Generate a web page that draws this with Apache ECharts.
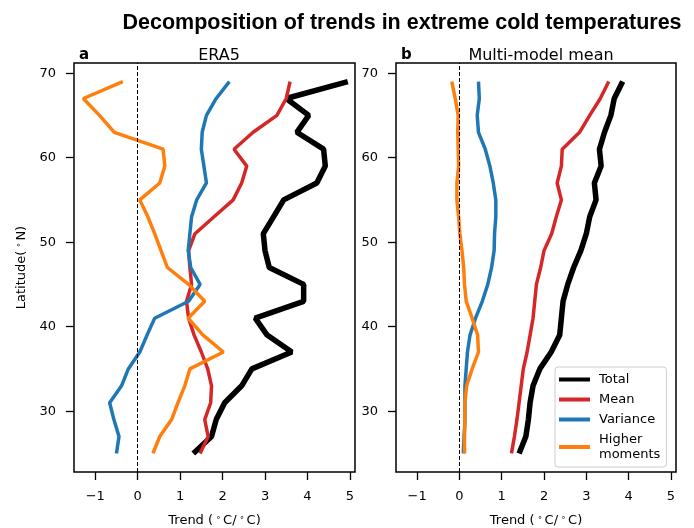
<!DOCTYPE html>
<html>
<head>
<meta charset="utf-8">
<script src="https://cdn.jsdelivr.net/npm/echarts@6/dist/echarts.min.js"></script>
<style>
  html, body { margin: 0; padding: 0; background: #fff; }
  #chart { width: 694px; height: 528px; }
</style>
</head>
<body>
<div id="chart"></div>
<script>
// latitude of each profile point (deg N), bottom to top
const latitudes = [25, 27, 29, 31, 33, 35, 37, 39, 41, 43, 45, 47, 49, 51, 53, 55, 57, 59, 61, 63, 65, 67, 69];

// a: ERA5 trends (°C/°C)
const era5Total = [1.31, 1.74, 1.85, 2.05, 2.45, 2.69, 3.63, 3.05, 2.77, 3.91, 3.91, 3.10, 3.00, 2.96, 3.20, 3.44, 4.22, 4.42, 4.38, 3.75, 4.03, 3.50, 4.95];
const era5Mean = [1.47, 1.66, 1.58, 1.72, 1.74, 1.65, 1.50, 1.33, 1.20, 1.15, 1.27, 1.23, 1.20, 1.35, 1.80, 2.25, 2.45, 2.57, 2.27, 2.72, 3.28, 3.50, 3.59];
const era5Variance = [-0.50, -0.44, -0.56, -0.66, -0.38, -0.22, 0.05, 0.22, 0.40, 1.20, 1.47, 1.25, 1.19, 1.23, 1.27, 1.39, 1.62, 1.56, 1.50, 1.52, 1.62, 1.85, 2.16];
const era5Higher = [0.36, 0.52, 0.80, 0.95, 1.11, 1.23, 2.02, 1.54, 1.19, 1.58, 1.20, 0.70, 0.55, 0.40, 0.24, 0.05, 0.52, 0.64, 0.60, -0.55, -0.90, -1.28, -0.35];

// b: multi-model mean trends (°C/°C)
const mmmTotal = [1.41, 1.57, 1.63, 1.67, 1.74, 1.90, 2.17, 2.37, 2.41, 2.45, 2.56, 2.70, 2.87, 3.00, 3.08, 3.23, 3.19, 3.35, 3.31, 3.43, 3.58, 3.66, 3.86];
const mmmMean = [1.23, 1.30, 1.36, 1.41, 1.46, 1.51, 1.60, 1.67, 1.74, 1.78, 1.82, 1.92, 2.00, 2.18, 2.29, 2.41, 2.31, 2.41, 2.43, 2.84, 3.08, 3.33, 3.53];
const mmmVariance = [0.09, 0.11, 0.13, 0.13, 0.13, 0.16, 0.19, 0.25, 0.38, 0.54, 0.67, 0.76, 0.82, 0.83, 0.86, 0.86, 0.80, 0.72, 0.61, 0.45, 0.42, 0.47, 0.45];
const mmmHigher = [0.12, 0.12, 0.13, 0.13, 0.17, 0.30, 0.45, 0.43, 0.30, 0.16, 0.12, 0.10, 0.06, 0.01, -0.02, -0.06, -0.06, -0.02, -0.03, -0.04, -0.03, -0.10, -0.18];

const seriesNames = ['Total', 'Mean', 'Variance', 'Higher\nmoments'];
const xTicks = [-1, 0, 1, 2, 3, 4, 5];
const yTicks = [30, 40, 50, 60, 70];

const colors = ['#000000', '#d62728', '#1f77b4', '#ff7f0e'];
const widths = [5.5, 3.5, 3.5, 3.5];
const font = 'DejaVu Sans';

const chart = echarts.init(document.getElementById('chart'));

function pairs(values) {
  return values.map((v, i) => [v, latitudes[i]]);
}

function fmt(v) {
  return v < 0 ? '\u2212' + Math.abs(v) : String(v);
}

// small raised degree sign, like mathtext's ^\circ
const degRich = {
  d: { fontSize: 8, fontFamily: font, color: '#000', verticalAlign: 'top', padding: [0, 2, 0, 3] }
};

function xAxis(idx) {
  return {
    type: 'value', gridIndex: idx, min: -1.5, max: 5.12,
    splitLine: { show: false },
    axisLine: { show: false, onZero: false },
    axisTick: { customValues: xTicks, length: 8, lineStyle: { color: '#000', width: 1.3 } },
    axisLabel: { customValues: xTicks, color: '#000', fontSize: 13, fontFamily: font, margin: 18, formatter: fmt },
    name: 'Trend ({d|\u2218}C/{d|\u2218}C)', nameLocation: 'middle', nameGap: 42,
    nameTextStyle: { color: '#000', fontSize: 13, fontFamily: font, rich: degRich }
  };
}

function yAxis(idx, withName) {
  return {
    type: 'value', gridIndex: idx, min: 22.8, max: 71.2,
    splitLine: { show: false },
    axisLine: { show: false, onZero: false },
    axisTick: { customValues: yTicks, length: 8, lineStyle: { color: '#000', width: 1.3 } },
    axisLabel: { customValues: yTicks, color: '#000', fontSize: 13, fontFamily: font, margin: 18 },
    name: withName ? 'Latitude({d|\u2218}N)' : '', nameLocation: 'middle', nameGap: 46,
    nameTextStyle: { color: '#000', fontSize: 13, fontFamily: font, rich: degRich }
  };
}

function profiles(idx, sets) {
  const out = sets.map((vals, i) => ({
    name: seriesNames[i],
    type: 'line',
    xAxisIndex: idx, yAxisIndex: idx,
    data: pairs(vals),
    showSymbol: false,
    symbol: 'none',
    animation: false,
    lineStyle: { color: colors[i], width: widths[i] },
    itemStyle: { color: colors[i] }
  }));
  // dashed zero line, drawn on top
  out.push({
    type: 'line', xAxisIndex: idx, yAxisIndex: idx, data: [],
    silent: true, animation: false,
    markLine: {
      symbol: 'none', silent: true, animation: false,
      label: { show: false },
      lineStyle: { color: '#000', width: 1, type: [4, 2] },
      data: [{ xAxis: 0 }]
    }
  });
  return out;
}

const option = {
  backgroundColor: '#fff',
  animation: false,
  title: [
    { text: 'Decomposition of trends in extreme cold temperatures', left: 397, top: 7, textAlign: 'center',
      textStyle: { fontFamily: 'Liberation Sans', fontWeight: 'bold', fontSize: 21.5, color: '#000' } },
    { text: 'a', left: 74, top: 43, textStyle: { fontFamily: font, fontWeight: 'bold', fontSize: 15, color: '#000' } },
    { text: 'ERA5', left: 214, top: 43, textAlign: 'center', textStyle: { fontFamily: font, fontWeight: 'normal', fontSize: 16, color: '#000' } },
    { text: 'b', left: 396, top: 43, textStyle: { fontFamily: font, fontWeight: 'bold', fontSize: 15, color: '#000' } },
    { text: 'Multi-model mean', left: 536, top: 43, textAlign: 'center', textStyle: { fontFamily: font, fontWeight: 'normal', fontSize: 16, color: '#000' } }
  ],
  grid: [
    { left: 74, top: 63, width: 281, height: 409, outerBoundsMode: 'none', show: true, borderColor: '#000', borderWidth: 1.5, backgroundColor: 'transparent' },
    { left: 396, top: 63, width: 280, height: 409, outerBoundsMode: 'none', show: true, borderColor: '#000', borderWidth: 1.5, backgroundColor: 'transparent' }
  ],
  legend: {
    data: seriesNames,
    orient: 'vertical',
    left: 555, top: 367,
    padding: [5, 6, 5, 4],
    itemGap: 5,
    itemWidth: 31, itemHeight: 4,
    icon: 'rect',
    backgroundColor: '#fff',
    borderColor: '#ccc', borderWidth: 1, borderRadius: 3,
    textStyle: { fontFamily: font, fontSize: 13, color: '#000', lineHeight: 15, padding: [0, 0, 0, 4] }
  },
  xAxis: [xAxis(0), xAxis(1)],
  yAxis: [yAxis(0, true), yAxis(1, false)],
  series: [].concat(
    profiles(0, [era5Total, era5Mean, era5Variance, era5Higher]),
    profiles(1, [mmmTotal, mmmMean, mmmVariance, mmmHigher])
  )
};

chart.setOption(option);
</script>
</body>
</html>
